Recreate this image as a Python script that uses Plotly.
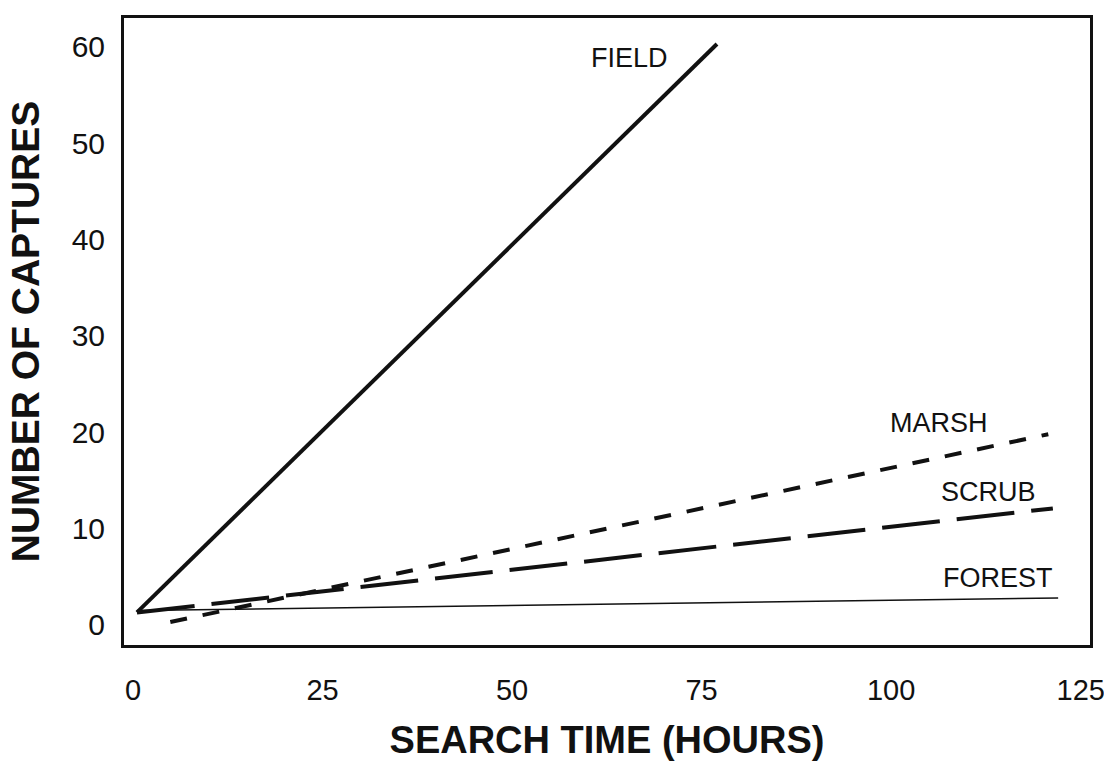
import plotly.graph_objects as go

# Data
field_hours = [0, 76.5]
field_captures = [1.3, 60.3]
marsh_hours = [4.4, 120.2]
marsh_captures = [0.3, 19.8]
scrub_hours = [0, 120.8]
scrub_captures = [1.3, 12.1]
forest_hours = [0, 121.5]
forest_captures = [1.5, 2.8]

x_ticks = [0, 25, 50, 75, 100, 125]
y_ticks = [0, 10, 20, 30, 40, 50, 60]

habitat_names = ["FIELD", "MARSH", "SCRUB", "FOREST"]
label_x = [65.0, 105.8, 112.3, 113.6]
label_y = [58.9, 21.0, 13.8, 4.9]

FONT = "Arial, 'Liberation Sans', sans-serif"
INK = "#111111"

fig = go.Figure()
fig.add_trace(go.Scatter(x=field_hours, y=field_captures, mode="lines",
                         line=dict(color=INK, width=4), name="FIELD"))
fig.add_trace(go.Scatter(x=marsh_hours, y=marsh_captures, mode="lines",
                         line=dict(color=INK, width=4, dash="17px,16px"), name="MARSH"))
fig.add_trace(go.Scatter(x=scrub_hours, y=scrub_captures, mode="lines",
                         line=dict(color=INK, width=4, dash="58px,17px"), name="SCRUB"))
fig.add_trace(go.Scatter(x=forest_hours, y=forest_captures, mode="lines",
                         line=dict(color=INK, width=1.5), name="FOREST"))

for name, lx, ly in zip(habitat_names, label_x, label_y):
    fig.add_annotation(x=lx, y=ly, text=name, showarrow=False,
                       font=dict(family=FONT, size=27, color=INK))

fig.update_layout(
    width=1104, height=763,
    margin=dict(l=124, r=14, t=18, b=118, autoexpand=False),
    paper_bgcolor="white", plot_bgcolor="white",
    showlegend=False,
    font=dict(family=FONT, color=INK),
)
fig.update_xaxes(
    range=[-1.71, 125.7], tickvals=x_ticks, showgrid=False, zeroline=False,
    showline=True, linewidth=3, linecolor=INK, mirror=True, automargin=False,
    ticks="outside", ticklen=17, tickcolor="rgba(0,0,0,0)",
    ticklabeloverflow="allow", ticklabelshift=-4,
    tickfont=dict(family=FONT, size=29, color=INK),
    title=dict(text="<b>SEARCH TIME (HOURS)</b>", standoff=22,
               font=dict(family=FONT, size=38, color=INK)),
)
fig.update_yaxes(
    range=[-2.08, 63.0], tickvals=y_ticks, showgrid=False, zeroline=False,
    showline=True, linewidth=3, linecolor=INK, mirror=True, automargin=False,
    ticks="outside", ticklen=10, tickcolor="rgba(0,0,0,0)",
    tickfont=dict(family=FONT, size=30, color=INK),
    title=dict(text="<b>NUMBER OF CAPTURES</b>", standoff=20,
               font=dict(family=FONT, size=39, color=INK)),
)

fig.write_html(
    "out.html",
    config={"displayModeBar": False},
    post_script="document.body.style.margin='0';document.body.style.padding='0';"
                "document.body.style.overflow='hidden';",
)
